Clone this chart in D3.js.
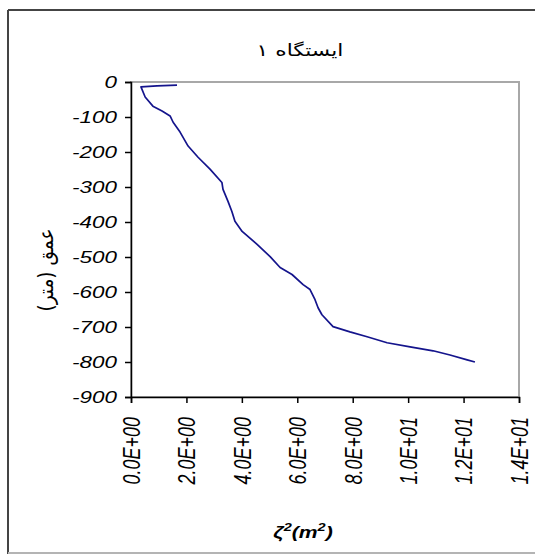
<!DOCTYPE html>
<html>
<head>
<meta charset="utf-8">
<script src="https://cdn.jsdelivr.net/npm/d3@7"></script>
<style>
  html, body { margin: 0; padding: 0; background: #fff; }
  svg { display: block; }
</style>
</head>
<body>
<svg id="chart" width="535" height="554"></svg>
<script>
// Station 1 profile: zeta squared (m^2) against depth (m)
const zetaSq = [1.66, 0.94, 0.36, 0.51, 0.79, 1.12, 1.41, 1.52, 1.77, 2.06, 2.42, 2.85, 3.28, 3.32, 3.50, 3.64, 3.75, 4.01, 4.55, 5.02, 5.38, 5.81, 6.21, 6.46, 6.64, 6.75, 6.89, 7.29, 7.90, 8.52, 9.24, 10.07, 10.90, 11.51, 12.13, 12.41];
const depth  = [-9, -11, -14, -43, -69, -83, -97, -115, -143, -183, -215, -249, -287, -307, -341, -370, -398, -427, -464, -499, -530, -550, -579, -593, -622, -645, -665, -699, -714, -728, -745, -757, -768, -780, -794, -800];

const xTicks = [0, 2, 4, 6, 8, 10, 12, 14];
const yTicks = [0, -100, -200, -300, -400, -500, -600, -700, -800, -900];

const titleText = "ایستگاه ۱";
const yTitle = "عمق (متر)";

const svg = d3.select("#chart");
const stretch = 1.32;
const latin = "'Liberation Sans', Arial, sans-serif";
const persian = "'DejaVu Sans', sans-serif";

const plot = { left: 131, right: 519, top: 82, bottom: 397 };

const x = d3.scaleLinear().domain([0, 14]).range([plot.left, plot.right]);
const y = d3.scaleLinear().domain([-900, 0]).range([plot.bottom, plot.top]);

// outer frame
svg.append("line").attr("x1", 8).attr("x2", 8).attr("y1", 10).attr("y2", 554)
  .attr("stroke", "#444").attr("stroke-width", 2);
svg.append("line").attr("x1", 8).attr("x2", 535).attr("y1", 10).attr("y2", 10)
  .attr("stroke", "#444").attr("stroke-width", 2);
svg.append("line").attr("x1", 8).attr("x2", 535).attr("y1", 553).attr("y2", 553)
  .attr("stroke", "#b4b4b4").attr("stroke-width", 2);

// plot area border
svg.append("rect")
  .attr("x", plot.left).attr("y", plot.top)
  .attr("width", plot.right - plot.left).attr("height", plot.bottom - plot.top)
  .attr("fill", "none").attr("stroke", "#a8a8a8").attr("stroke-width", 2);

// profile line
const line = d3.line().x((d, i) => x(zetaSq[i])).y(d => y(d));
svg.append("path")
  .datum(depth)
  .attr("d", line)
  .attr("fill", "none")
  .attr("stroke", "#14148c")
  .attr("stroke-width", 1.7)
  .attr("stroke-linejoin", "round");

// y axis
const yAxis = d3.axisLeft(y).tickValues(yTicks).tickSize(6).tickPadding(8)
  .tickFormat(d => d === 0 ? "0" : String(d));
const gy = svg.append("g").attr("transform", `translate(${plot.left},0)`).call(yAxis);
gy.select(".domain").attr("stroke", "#000").attr("stroke-width", 1.5);
gy.selectAll(".tick line").attr("stroke", "#000").attr("stroke-width", 1.5);
gy.selectAll(".tick text")
  .attr("font-family", latin).attr("font-size", 17).attr("font-style", "italic")
  .attr("fill", "#000")
  .each(function () {
    const t = d3.select(this);
    const tx = +t.attr("x");
    t.attr("x", null)
     .attr("transform", `translate(${tx},0) scale(${stretch},1)`);
  });

// x axis
const fmt = v => {
  const [m, e] = v.toExponential(1).split("e");
  const ev = Math.abs(+e);
  return m.toUpperCase() + "E" + (+e < 0 ? "-" : "+") + String(ev).padStart(2, "0");
};
const xAxis = d3.axisBottom(x).tickValues(xTicks).tickSize(6).tickFormat(fmt);
const gx = svg.append("g").attr("transform", `translate(0,${plot.bottom})`).call(xAxis);
gx.select(".domain").attr("stroke", "#000").attr("stroke-width", 1.5);
gx.selectAll(".tick line").attr("stroke", "#000").attr("stroke-width", 1.5);
gx.selectAll(".tick text")
  .attr("font-family", latin).attr("font-size", 18).attr("font-style", "italic")
  .attr("fill", "#000")
  .attr("y", null).attr("dy", null)
  .attr("text-anchor", "end")
  .attr("transform", `translate(0,20) scale(${stretch},1) rotate(-90)`)
  .attr("dy", "0.35em");

// chart title
svg.append("text")
  .attr("transform", `translate(300,56) scale(${stretch},1)`)
  .attr("text-anchor", "middle")
  .attr("font-family", persian).attr("font-size", 16.5)
  .attr("fill", "#000")
  .text(titleText);

// y axis title
svg.append("text")
  .attr("transform", `translate(46,270) scale(1.1,1) rotate(-90)`)
  .attr("text-anchor", "middle")
  .attr("dy", "0.35em")
  .attr("font-family", persian).attr("font-size", 18.5)
  .attr("fill", "#000")
  .text(yTitle);

// x axis title
const xl = svg.append("text")
  .attr("transform", `translate(303,538) scale(${stretch},1)`)
  .attr("text-anchor", "middle")
  .attr("font-family", latin).attr("font-size", 16)
  .attr("font-style", "italic").attr("font-weight", "bold")
  .attr("fill", "#000");
xl.append("tspan").text("ζ");
xl.append("tspan").attr("font-size", 11).attr("dy", -7).text("2");
xl.append("tspan").attr("dy", 7).text("(m");
xl.append("tspan").attr("font-size", 11).attr("dy", -7).text("2");
xl.append("tspan").attr("dy", 7).text(")");
</script>
</body>
</html>
